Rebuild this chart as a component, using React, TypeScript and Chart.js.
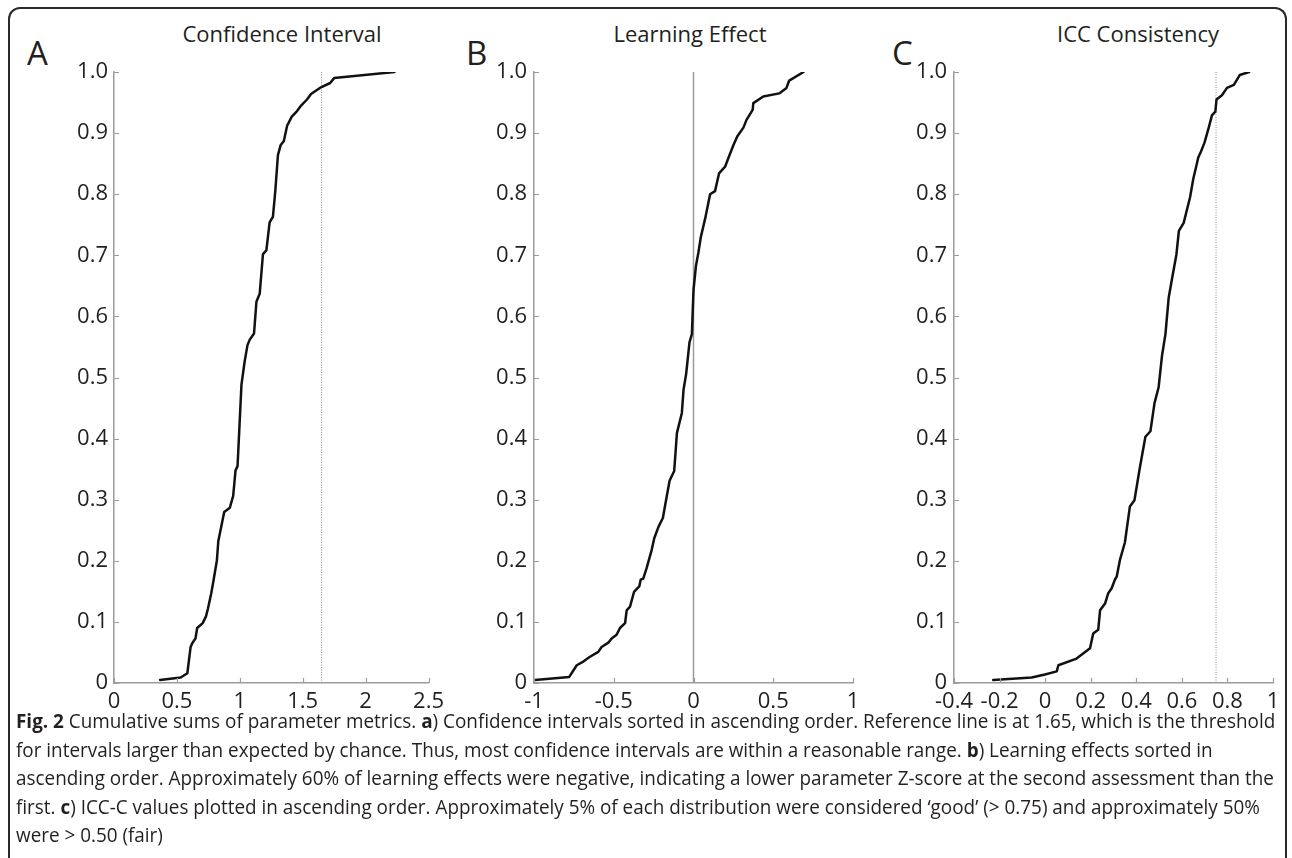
import React, { useEffect, useRef, useState } from "react";
import { Chart, registerables } from "chart.js";

Chart.register(...registerables);

const FONT = "'Open Sans', 'Noto Sans', sans-serif";
const TEXT_COLOR = "#231f20";
const AXIS_COLOR = "#9c9c9c";
const CURVE_COLOR = "#111111";

// shared y ticks (cumulative proportion)
const yTicks = [0, 0.1, 0.2, 0.3, 0.4, 0.5, 0.6, 0.7, 0.8, 0.9, 1.0];

// Panel A – Confidence Interval
const ciTitle = "Confidence Interval";
const ciValues = [
  0.366, 0.53, 0.583, 0.609, 0.622, 0.648, 0.661, 0.705, 0.731, 0.747, 0.773, 0.792, 0.818,
  0.829, 0.876, 0.921, 0.947, 0.966, 0.982, 1.013, 1.039, 1.061, 1.079, 1.113, 1.132, 1.158,
  1.184, 1.211, 1.237, 1.263, 1.282, 1.303, 1.324, 1.35, 1.376, 1.413, 1.455, 1.487, 1.534,
  1.566, 1.645, 1.718, 1.75, 2.23,
];
const ciCumulative = [
  0.005, 0.009, 0.016, 0.059, 0.065, 0.073, 0.09, 0.098, 0.109, 0.122, 0.147, 0.169, 0.201,
  0.232, 0.28, 0.287, 0.306, 0.348, 0.355, 0.488, 0.527, 0.553, 0.562, 0.572, 0.624, 0.637,
  0.702, 0.708, 0.754, 0.763, 0.805, 0.864, 0.88, 0.887, 0.912, 0.927, 0.936, 0.945, 0.955,
  0.964, 0.975, 0.982, 0.99, 1.0,
];
const ciTicks = [0, 0.5, 1, 1.5, 2, 2.5];
const ciReference = 1.65;

// Panel B – Learning Effect
const leTitle = "Learning Effect";
const leValues = [
  -0.994, -0.779, -0.732, -0.691, -0.649, -0.597, -0.576, -0.534, -0.513, -0.482, -0.461,
  -0.429, -0.419, -0.398, -0.373, -0.34, -0.331, -0.315, -0.294, -0.262, -0.246, -0.219,
  -0.192, -0.177, -0.15, -0.121, -0.104, -0.073, -0.0625, -0.046, -0.025, -0.01, 0.0, 0.015,
  0.031, 0.046, 0.073, 0.104, 0.135, 0.16, 0.198, 0.223, 0.25, 0.275, 0.313, 0.333, 0.371,
  0.375, 0.4375, 0.5375, 0.583, 0.6, 0.69,
];
const leCumulative = [
  0.005, 0.01, 0.029, 0.035, 0.043, 0.051, 0.059, 0.066, 0.073, 0.079, 0.09, 0.098, 0.119,
  0.125, 0.149, 0.158, 0.169, 0.171, 0.188, 0.218, 0.237, 0.256, 0.27, 0.292, 0.331, 0.347,
  0.409, 0.442, 0.48, 0.506, 0.558, 0.571, 0.643, 0.682, 0.705, 0.73, 0.76, 0.8, 0.805, 0.834,
  0.845, 0.862, 0.88, 0.895, 0.909, 0.922, 0.938, 0.949, 0.96, 0.965, 0.974, 0.986, 1.0,
];
const leTicks = [-1, -0.5, 0, 0.5, 1];
const leReference = 0;

// Panel C – ICC Consistency
const iccTitle = "ICC Consistency";
const iccValues = [
  -0.228, -0.059, -0.001, 0.051, 0.058, 0.138, 0.197, 0.211, 0.233, 0.241, 0.263, 0.277,
  0.292, 0.306, 0.314, 0.328, 0.35, 0.372, 0.392, 0.415, 0.44, 0.462, 0.48, 0.498, 0.513,
  0.528, 0.542, 0.557, 0.576, 0.587, 0.608, 0.636, 0.65, 0.664, 0.672, 0.684, 0.699, 0.718,
  0.732, 0.747, 0.752, 0.776, 0.798, 0.828, 0.854, 0.895,
];
const iccCumulative = [
  0.005, 0.009, 0.014, 0.019, 0.029, 0.04, 0.057, 0.081, 0.087, 0.119, 0.13, 0.147, 0.155,
  0.169, 0.174, 0.201, 0.23, 0.289, 0.299, 0.351, 0.403, 0.412, 0.458, 0.484, 0.536, 0.571,
  0.63, 0.662, 0.701, 0.74, 0.753, 0.795, 0.825, 0.847, 0.86, 0.87, 0.884, 0.909, 0.929,
  0.935, 0.955, 0.962, 0.974, 0.979, 0.995, 1.0,
];
const iccTicks = [-0.4, -0.2, 0, 0.2, 0.4, 0.6, 0.8, 1];
const iccReference = 0.75;

const fmtX = (v: number) => String(Math.round(v * 100) / 100);
const fmtY = (v: number) => (v === 0 ? "0" : v.toFixed(1));

const inwardTicks = {
  id: "inwardTicks",
  afterDatasetsDraw(chart: any) {
    const { ctx, scales, chartArea } = chart;
    const x = scales.x;
    const y = scales.y;
    ctx.save();
    ctx.strokeStyle = AXIS_COLOR;
    ctx.lineWidth = 1.2;
    ctx.beginPath();
    x.ticks.forEach((t: any) => {
      const px = Math.round(x.getPixelForValue(t.value)) + 0.5;
      ctx.moveTo(px, chartArea.bottom);
      ctx.lineTo(px, chartArea.bottom - 5);
    });
    y.ticks.forEach((t: any) => {
      const py = Math.round(y.getPixelForValue(t.value)) + 0.5;
      ctx.moveTo(chartArea.left, py);
      ctx.lineTo(chartArea.left + 5, py);
    });
    ctx.stroke();
    ctx.restore();
  },
};

type PanelProps = {
  left: number;
  width: number;
  yAxisWidth: number;
  xs: number[];
  ys: number[];
  xTicks: number[];
  refX: number;
  refDotted: boolean;
  labelPad: number;
};

const CANVAS_TOP = 10;
const CANVAS_H = 710;
const TICK_SIZE = 22;

function Panel({ left, width, yAxisWidth, xs, ys, xTicks, refX, refDotted, labelPad }: PanelProps) {
  const ref = useRef<HTMLCanvasElement>(null);
  useEffect(() => {
    const chart = new Chart(ref.current as HTMLCanvasElement, {
      type: "scatter",
      data: {
        datasets: [
          {
            data: xs.map((x, i) => ({ x, y: ys[i] })),
            showLine: true,
            borderColor: CURVE_COLOR,
            borderWidth: 2.5,
            pointRadius: 0,
            tension: 0,
            borderJoinStyle: "round",
            borderCapStyle: "round",
          } as any,
          {
            data: [
              { x: refX, y: 0 },
              { x: refX, y: 1 },
            ],
            showLine: true,
            borderColor: refDotted ? "#8f8f8f" : AXIS_COLOR,
            borderWidth: refDotted ? 1 : 1.5,
            borderDash: refDotted ? [1, 1.5] : [],
            pointRadius: 0,
          } as any,
        ],
      },
      options: {
        responsive: false,
        maintainAspectRatio: false,
        animation: false,
        layout: { padding: { top: 62, right: 17, bottom: 0, left: 0 } },
        plugins: {
          legend: { display: false },
          tooltip: { enabled: false },
          title: { display: false },
        },
        scales: {
          x: {
            type: "linear",
            min: xTicks[0],
            max: xTicks[xTicks.length - 1],
            afterBuildTicks: (s: any) => {
              s.ticks = xTicks.map((v) => ({ value: v }));
            },
            afterFit: (s: any) => {
              s.height = 37;
            },
            grid: { display: false, drawTicks: false },
            border: { display: true, color: AXIS_COLOR, width: 1.5 },
            ticks: {
              padding: 6,
              color: TEXT_COLOR,
              autoSkip: false,
              maxRotation: 0,
              font: { family: FONT, size: TICK_SIZE },
              callback: (v: any) => fmtX(Number(v)),
            },
          },
          y: {
            type: "linear",
            min: 0,
            max: 1,
            afterBuildTicks: (s: any) => {
              s.ticks = yTicks.map((v) => ({ value: v }));
            },
            afterFit: (s: any) => {
              s.width = yAxisWidth;
            },
            grid: { display: false, drawTicks: false },
            border: { display: true, color: AXIS_COLOR, width: 1.5 },
            ticks: {
              padding: labelPad,
              color: TEXT_COLOR,
              autoSkip: false,
              font: { family: FONT, size: TICK_SIZE },
              callback: (v: any) => fmtY(Number(v)),
            },
          },
        },
      } as any,
      plugins: [inwardTicks],
    });
    return () => chart.destroy();
  }, []);
  return (
    <canvas
      ref={ref}
      width={width}
      height={CANVAS_H}
      style={{ position: "absolute", left, top: CANVAS_TOP, width, height: CANVAS_H }}
    />
  );
}

const CAPTION_WIDTH = 1259;

function Caption() {
  const lineRef = useRef<HTMLSpanElement>(null);
  const [scale, setScale] = useState(1);
  useEffect(() => {
    const measure = () => {
      const w = lineRef.current ? lineRef.current.offsetWidth : 0;
      if (w) setScale(CAPTION_WIDTH / w);
    };
    measure();
    if ((document as any).fonts && (document as any).fonts.ready) {
      (document as any).fonts.ready.then(measure);
    }
  }, []);
  return (
    <div
      style={{
        position: "absolute",
        left: 16,
        top: 707,
        transform: `scaleX(${scale})`,
        transformOrigin: "0 0",
        fontFamily: FONT,
        fontSize: 19.5,
        lineHeight: "28.5px",
        color: TEXT_COLOR,
        whiteSpace: "nowrap",
      }}
    >
      <div>
        <span ref={lineRef}>
          <b>Fig. 2</b> Cumulative sums of parameter metrics. <b>a</b>) Confidence intervals sorted in
          ascending order. Reference line is at 1.65, which is the threshold
        </span>
      </div>
      <div>
        for intervals larger than expected by chance. Thus, most confidence intervals are within a
        reasonable range. <b>b</b>) Learning effects sorted in
      </div>
      <div>
        ascending order. Approximately 60% of learning effects were negative, indicating a lower
        parameter Z-score at the second assessment than the
      </div>
      <div>
        first. <b>c</b>) ICC-C values plotted in ascending order. Approximately 5% of each distribution
        were considered ‘good’ (&gt; 0.75) and approximately 50%
      </div>
      <div>were &gt; 0.50 (fair)</div>
    </div>
  );
}

const labelStyle = (left: number, size: number, top: number): React.CSSProperties => ({
  position: "absolute",
  left,
  top,
  fontFamily: FONT,
  fontSize: size,
  lineHeight: 1,
  color: TEXT_COLOR,
  whiteSpace: "nowrap",
});

const titleStyle = (center: number): React.CSSProperties => ({
  position: "absolute",
  left: center - 150,
  width: 300,
  textAlign: "center",
  top: 22,
  fontFamily: FONT,
  fontSize: 22,
  lineHeight: 1,
  color: TEXT_COLOR,
  whiteSpace: "nowrap",
});

export default function App() {
  return (
    <div
      style={{
        position: "fixed",
        left: 0,
        top: 0,
        width: 1292,
        height: 858,
        overflow: "hidden",
        background: "#ffffff",
      }}
    >
      <div
        style={{
          position: "absolute",
          left: 8,
          top: 7,
          width: 1279,
          height: 900,
          boxSizing: "border-box",
          border: "2px solid #2a2a2a",
          borderBottom: "none",
          borderRadius: "12px 12px 0 0",
        }}
      />
      <div style={labelStyle(27, 33, 36)}>A</div>
      <div style={labelStyle(466, 33, 36)}>B</div>
      <div style={labelStyle(892, 33, 36)}>C</div>
      <div style={titleStyle(282)}>{ciTitle}</div>
      <div style={titleStyle(690)}>{leTitle}</div>
      <div style={titleStyle(1138)}>{iccTitle}</div>
      <Panel
        left={10}
        width={440}
        yAxisWidth={104}
        xs={ciValues}
        ys={ciCumulative}
        xTicks={ciTicks}
        refX={ciReference}
        refDotted={true}
        labelPad={6}
      />
      <Panel
        left={440}
        width={430}
        yAxisWidth={94}
        xs={leValues}
        ys={leCumulative}
        xTicks={leTicks}
        refX={leReference}
        refDotted={false}
        labelPad={7}
      />
      <Panel
        left={870}
        width={420}
        yAxisWidth={84}
        xs={iccValues}
        ys={iccCumulative}
        xTicks={iccTicks}
        refX={iccReference}
        refDotted={true}
        labelPad={7}
      />
      <Caption />
    </div>
  );
}
